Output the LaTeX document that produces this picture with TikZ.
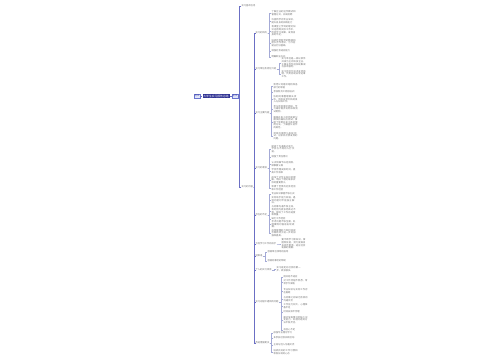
\documentclass[tikz,border=0pt]{standalone}
\usepackage{fontspec}
\usepackage{tikz}
\usetikzlibrary{positioning}
\newfontfamily\cjk{Noto Sans CJK SC}
\XeTeXlinebreaklocale "zh"
\XeTeXlinebreakskip = 0pt plus 0.5pt
\definecolor{rootblue}{HTML}{2E3192}
\definecolor{sidefill}{HTML}{E3E8FA}
\definecolor{sideline}{HTML}{6A75CF}
\definecolor{spineblue}{HTML}{6B6FC4}
\definecolor{twiggray}{HTML}{A4AAD6}
\definecolor{leafgray}{HTML}{707070}
\newcommand{\leaffont}{\cjk\fontsize{2.3}{2.6}\selectfont}
\newcommand{\rootfont}{\cjk\fontsize{2.8}{3.2}\selectfont}

\begin{document}
\begin{tikzpicture}[x=1pt,y=-1pt]
\fill[white] (0,0) rectangle (500,360);
\useasboundingbox (0,0) rectangle (500,360);

% centre
\node[fill=rootblue,text=white,inner sep=0.9pt,font=\rootfont] (root) at (216,96) {大学生实习报告总结};
\begin{scope}[every node/.style={fill=sidefill,draw=sideline,line width=0.3pt,text=rootblue,inner sep=0.8pt,font=\leaffont}]
    \node (left) at (197,96) {范文};
    \node (right) at (235,96) {正文};
\end{scope}

% branches
\begin{scope}[every node/.style={anchor=west,inner sep=0.3pt,text=leafgray,font=\leaffont}]
    \node (info) at (241,6) {实习基本信息};
    \node (content) at (241,187) {实习的内容};

    \node (aim) at (255,33) {实习的目的};
    \node (unit) at (255,69) {实习单位及岗位介绍};
    \node (work) at (255,113) {实习主要内容};
    \node (gain) at (255,168) {实习的收获};
    \node (lack) at (255,215) {存在的不足};
    \node (future) at (255,244) {今后学习工作的启示};
    \node (thanks) at (255,256) {结束语};
    \node (feel) at (255,270) {个人的实习体会};
    \node (problem) at (255,302) {实习过程中遇到的问题};
    \node (advice) at (255,343) {改进措施建议};
\end{scope}

% leaves
\begin{scope}[every node/.style={anchor=west,text width=25pt,align=left,inner sep=0.4pt,text=leafgray,font=\leaffont}]
    \node (aim1) at (271,13) {了解企业的运作模式和管理方式，开阔视野};
    \node (aim2) at (271,21) {巩固所学的专业知识，提升自身的实践能力};
    \node (aim3) at (271,31) {将课堂上学到的理论知识运用到实际工作中，检验学习成果，发现自身的不足。};
    \node (aim4) at (271,43) {培养吃苦耐劳的精神和团队合作意识，为今后就业打好基础。};
    \node (aim5) at (271,51) {增强社会适应能力};
    \node (aim6) at (271,57) {明确职业方向};

    \node (unit1) at (281,63) {实习单位是一家以软件开发为主的科技企业，主要业务包括系统集成与技术服务。};
    \node (unit2) at (281,74) {实习岗位为技术支持助理，负责协助日常运维工作。};

    \node (work1) at (273,86) {熟悉公司组织结构和各部门的职能};
    \node (work2) at (273,92) {参加新员工岗前培训};
    \node (work3) at (273,99.5) {协助同事整理相关资料，完成日常文档的录入与归档工作。};
    \node (work4) at (273,109) {参与项目需求调研，学习编写需求说明书和测试用例。};
    \node (work5) at (273,122.5) {跟随开发小组完成部分模块的编码与调试，掌握了常用开发工具的使用方法，了解团队协作的规范。};
    \node (work6) at (273,136) {项目后期参与系统测试，记录并反馈发现的问题。};

    \node (gain1) at (271,149) {提高了沟通表达能力，学会与不同的人打交道。};
    \node (gain2) at (271,157) {增强了责任意识};
    \node (gain3) at (271,164) {认识到细节决定成败，做事要认真};
    \node (gain4) at (271,171) {学会合理安排时间，提高工作效率};
    \node (gain5) at (271,180) {加深了对专业知识的理解，明白了理论联系实际的重要意义。};
    \node (gain6) at (271,188) {积累了宝贵的社会经验和工作经验};

    \node (lack1) at (271,194) {专业知识掌握不够扎实};
    \node (lack2) at (271,200.5) {实际动手能力较弱，遇到问题时不能独立解决。};
    \node (lack3) at (271,211) {与同事沟通不够主动，有时因为紧张而表达不清，影响了工作的进度和质量。};
    \node (lack4) at (271,219) {缺乏工作经验};
    \node (lack5) at (271,224.5) {考虑问题不够全面，处理事情时容易出现疏漏。};
    \node (lack6) at (271,233) {自我管理能力和时间观念都有待于进一步的加强和提高。};

    \node (future1) at (281,244) {要不断学习新知识，掌握新技能，努力提高自身综合素质，适应社会发展的需要。};

    \node (thanks1) at (267,252) {感谢单位领导的指导};
    \node (thanks2) at (267,261) {感谢同事们的帮助};

    \node (feel1) at (276,269) {实习是走向社会的第一步，收获很多。};

    \node (problem1) at (283,277) {刚开始不适应};
    \node (problem2) at (283,282) {对工作流程不熟悉，常常手忙脚乱};
    \node (problem3) at (283,291) {专业知识与实际工作存在差距};
    \node (problem4) at (283,299) {与同事之间缺乏有效的沟通交流};
    \node (problem5) at (283,306) {工作压力较大，心理准备不足};
    \node (problem6) at (283,312) {时间安排不合理};
    \node (problem7) at (283,320) {面对突发情况时缺少应变能力，处理问题的方法不够灵活。};
    \node (problem8) at (283,330) {自信心不足};

    \node (advice1) at (273,333) {加强专业理论学习};
    \node (advice2) at (273,338) {多参加社会实践活动};
    \node (advice3) at (273,345) {主动与他人沟通交流};
    \node (advice4) at (273,352) {培养良好的工作习惯和积极乐观的心态};
\end{scope}

% connectors
\begin{scope}[every path/.style={draw=spineblue,line width=0.5pt}]
    \draw (left) -- (root);
    \draw (root) -- (right);
    \draw (right.east) -- ++(1,0) |- (info.west);
    \draw (right.east) -- ++(1,0) |- (content.west);
    \foreach \g in {aim,unit,work,gain,lack,future,thanks,feel,problem,advice}
        \draw (content.east) -- ++(1,0) |- (\g.west);
\end{scope}

\begin{scope}[every path/.style={draw=twiggray,line width=0.3pt}]
    \foreach \l in {aim1,aim2,aim3,aim4,aim5,aim6}
        \draw (aim.east) -| ([xshift=-2pt]\l.west) -- (\l.west);
    \foreach \l in {unit1,unit2}
        \draw (unit.east) -| ([xshift=-2pt]\l.west) -- (\l.west);
    \foreach \l in {work1,work2,work3,work4,work5,work6}
        \draw (work.east) -| ([xshift=-2pt]\l.west) -- (\l.west);
    \foreach \l in {gain1,gain2,gain3,gain4,gain5,gain6}
        \draw (gain.east) -| ([xshift=-2pt]\l.west) -- (\l.west);
    \foreach \l in {lack1,lack2,lack3,lack4,lack5,lack6}
        \draw (lack.east) -| ([xshift=-2pt]\l.west) -- (\l.west);
    \foreach \l in {future1}
        \draw (future.east) -| ([xshift=-2pt]\l.west) -- (\l.west);
    \foreach \l in {thanks1,thanks2}
        \draw (thanks.east) -| ([xshift=-2pt]\l.west) -- (\l.west);
    \foreach \l in {feel1}
        \draw (feel.east) -| ([xshift=-2pt]\l.west) -- (\l.west);
    \foreach \l in {problem1,problem2,problem3,problem4,problem5,problem6,problem7,problem8}
        \draw (problem.east) -| ([xshift=-2pt]\l.west) -- (\l.west);
    \foreach \l in {advice1,advice2,advice3,advice4}
        \draw (advice.east) -| ([xshift=-2pt]\l.west) -- (\l.west);
\end{scope}
\end{tikzpicture}
\end{document}
